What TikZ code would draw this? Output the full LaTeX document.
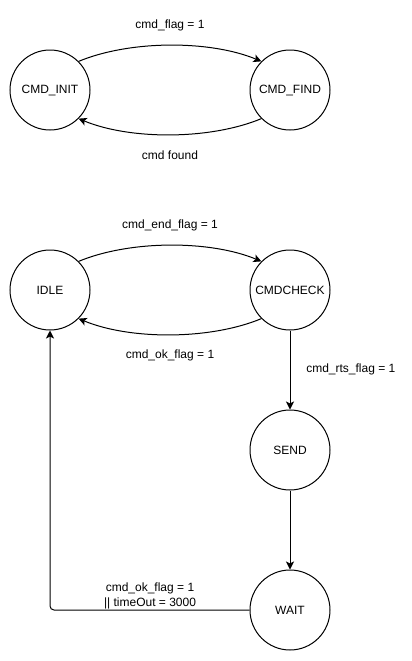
\documentclass[tikz,border=0pt]{standalone}
\usepackage{fontspec}
\setmainfont{Liberation Sans}
\usetikzlibrary{arrows.meta}
\begin{document}
\begin{tikzpicture}[x=0.75pt,y=-0.75pt,
  state/.style={draw, circle, minimum size=60pt, inner sep=0pt, line width=0.75pt, font=\fontsize{9}{11}\selectfont},
  lbl/.style={font=\fontsize{9}{11}\selectfont, inner sep=0pt, align=center},
  arr/.style={line width=0.75pt, -{Stealth[length=6pt,width=6pt,inset=1.5pt]}}]
\useasboundingbox (0,0) rectangle (411,661);
\node[state] (init) at (50,90) {CMD\_INIT};
\node[state] (find) at (290,90) {CMD\_FIND};
\node[state] (idle) at (50,290) {IDLE};
\node[state] (check) at (290,290) {CMDCHECK};
\node[state] (send) at (290,450) {SEND};
\node[state] (wait) at (290,610) {WAIT};

\draw[arr] (init.45) .. controls (130,40) and (210,40) .. (find.135);
\draw[arr] (find.-135) .. controls (210,140) and (130,140) .. (init.-45);
\draw[arr] (idle.45) .. controls (130,240) and (210,240) .. (check.135);
\draw[arr] (check.-135) .. controls (210,340) and (130,340) .. (idle.-45);
\draw[arr] (check.south) -- (send.north);
\draw[arr] (send.south) -- (wait.north);
\draw[arr, rounded corners=3pt] (wait.west) -| (idle.south);

\node[lbl] (l1) at (170,25) {cmd\_flag = 1};
\node[lbl] (l2) at (170,155) {cmd found};
\node[lbl] (l3) at (170,225) {cmd\_end\_flag = 1};
\node[lbl] (l4) at (170,355) {cmd\_ok\_flag = 1};
\node[lbl, anchor=west] (l5) at (306,369) {cmd\_rts\_flag = 1};
\node[lbl] (l6) at (150,596) {cmd\_ok\_flag = 1\\|| timeOut = 3000};
\end{tikzpicture}
\end{document}
